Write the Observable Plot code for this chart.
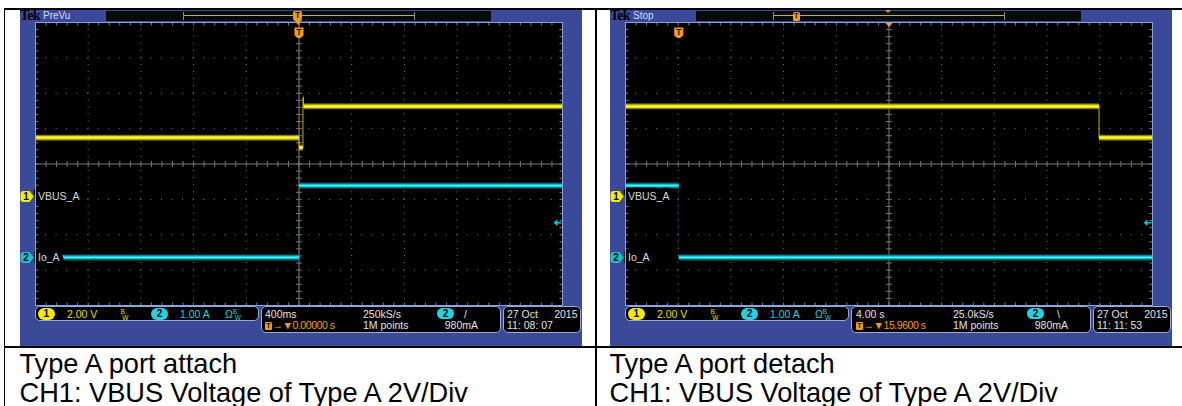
<!DOCTYPE html>
<html>
<head>
<meta charset="utf-8">
<script src="https://cdn.jsdelivr.net/npm/d3@7"></script>
<script src="https://cdn.jsdelivr.net/npm/@observablehq/plot@0.6"></script>
<style>
  html,body{margin:0;padding:0;background:#fff;}
  #page{position:relative;width:1182px;height:406px;overflow:hidden;background:#fff;}
  .rule{position:absolute;background:#000;}
  .panel{position:absolute;top:10px;width:562px;height:336px;background:#3b4999;}
  .panel svg{position:absolute;left:0;top:0;}
  .cap{position:absolute;white-space:nowrap;font-family:"Liberation Sans",Arial,sans-serif;font-size:27.2px;line-height:30px;color:#000;}
  .st{position:absolute;white-space:nowrap;font-family:"Liberation Sans",Arial,sans-serif;font-size:10.5px;line-height:12px;color:#e2e2e2;}
  .box{position:absolute;background:#000;border:1px solid #9ea9d2;border-radius:5px;box-sizing:border-box;}
  .pill{position:absolute;height:11.7px;width:17.3px;border-radius:6px;font:bold 10px/11.7px "Liberation Sans",Arial,sans-serif;text-align:center;color:#000;}
  .abs{position:absolute;}
  .bw{font-size:6.5px;display:inline-block;line-height:6px;vertical-align:middle;}
</style>
</head>
<body>
<div id="page"></div>
<script>
// ---------- data ----------
const captionTitles = ["Type A port attach", "Type A port detach"];
const captionDetail = ["CH1: VBUS Voltage of Type A 2V/Div", "CH1: VBUS Voltage of Type A 2V/Div"];
const scopeModes = ["PreVu", "Stop"];
const secPerDiv = [0.4, 4];            // s/div
const timeDelay = [0, 15.96];          // s (trigger -> screen centre)
const timebaseLabels = ["400ms", "4.00 s"];
const delayLabels = ["0.00000 s", "15.9600 s"];
const sampleRates = ["250kS/s", "25.0kS/s"];
const recordLengths = ["1M points", "1M points"];
const triggerSlopes = ["/", "\\"];
const triggerLevelA = 0.98;            // A
const triggerLevelLabel = "980mA";
const captureDates = ["27 Oct", "27 Oct"];
const captureYears = ["2015", "2015"];
const captureTimes = ["11: 08: 07", "11: 11: 53"];
const channelNames = ["VBUS_A", "Io_A"];
const channelScales = [2.00, 1.00];    // V/div, A/div
const channelScaleLabels = ["2.00 V", "1.00 A"];
const channelOffsets = [-0.92, -2.64]; // div from centre

// Type A port attach
const attachVbusT = [-2, 0, 0.030, 0.034, 2];
const attachVbusV = [3.33, 2.77, 5.55, 5.10, 5.10];
const attachIoT = [-2, 0, 2];
const attachIoA = [0, 2.03, 2.03];
// Type A port detach
const detachVbusT = [-4.04, 31.9, 35.96];
const detachVbusV = [5.10, 3.33, 3.33];
const detachIoT = [-4.04, 0, 35.96];
const detachIoA = [2.03, 0, 0];

const traces = [
  {vT: attachVbusT, vV: attachVbusV, iT: attachIoT, iA: attachIoA},
  {vT: detachVbusT, vV: detachVbusV, iT: detachIoT, iA: detachIoA}
];

// ---------- layout ----------
const W = 562, H = 336, ML = 15, MR = 20, MT = 12, MB = 41;
const divW = (W - ML - MR) / 10, divH = (H - MT - MB) / 8;
const FONT = "Liberation Sans, Arial, sans-serif";
const YEL = "#e6de00", CYA = "#00c4d0", ORA = "#f39b1c";

const page = document.getElementById("page");
function el(parent, cls, style, html) {
  const d = document.createElement("div");
  if (cls) d.className = cls;
  Object.assign(d.style, style);
  if (html != null) d.innerHTML = html;
  parent.appendChild(d);
  return d;
}

// table rules
el(page, "rule", {left: "4px", top: "8px", width: "1180px", height: "1.6px"});
el(page, "rule", {left: "4px", top: "8px", width: "1.4px", height: "400px"});
el(page, "rule", {left: "595px", top: "8px", width: "1.8px", height: "400px"});
el(page, "rule", {left: "4px", top: "346px", width: "1180px", height: "2px"});

function tag(w, h) {
  return {draw(ctx) {
    const x0 = -w / 2, x1 = w / 2, y0 = -h / 2, y1 = h / 2, r = 3, p = 4;
    ctx.moveTo(x0 + r, y0); ctx.lineTo(x1 - p, y0); ctx.lineTo(x1, 0); ctx.lineTo(x1 - p, y1);
    ctx.lineTo(x0 + r, y1); ctx.arcTo(x0, y1, x0, y1 - r, r); ctx.lineTo(x0, y0 + r);
    ctx.arcTo(x0, y0, x0 + r, y0, r); ctx.closePath();
  }};
}
const trigBox = {draw(ctx) {
  ctx.moveTo(-4.5, -5); ctx.lineTo(4.5, -5); ctx.lineTo(4.5, 3); ctx.lineTo(1.5, 5.5);
  ctx.lineTo(-1.5, 5.5); ctx.lineTo(-4.5, 3); ctx.closePath();
}};
const leftArrow = {draw(ctx) {
  ctx.moveTo(-4, 0); ctx.lineTo(0, -3.5); ctx.lineTo(0, -0.8); ctx.lineTo(3.5, -0.8);
  ctx.lineTo(3.5, 0.8); ctx.lineTo(0, 0.8); ctx.lineTo(0, 3.5); ctx.closePath();
}};
const downTri = {draw(ctx) { ctx.moveTo(-3.5, 0); ctx.lineTo(3.5, 0); ctx.lineTo(0, 4); ctx.closePath(); }};

function steps(ts, vs) { return ts.slice(0, -1).map((t, i) => ({t0: t, t1: ts[i + 1], v: vs[i]})); }
function pts(ts, vs) { return ts.map((t, i) => ({t, v: vs[i]})); }

function scopePlot(k) {
  const tr = traces[k];
  const xd = t => 5 + (t - timeDelay[k]) / secPerDiv[k];
  const yv = v => channelOffsets[0] + v / channelScales[0];
  const ya = a => channelOffsets[1] + a / channelScales[1];
  const majorX = [1, 2, 3, 4, 6, 7, 8, 9];
  const majorY = [-3, -2, -1, 1, 2, 3];
  const minorX = d3.range(0, 51).map(i => i / 5);
  const minorY = d3.range(0, 41).map(i => -4 + i / 5);
  const tx = 3 / divW, ty = 3 / divH;
  const band = (data, f, colors) => [
    Plot.link(data, {x1: d => xd(d.t0), x2: d => xd(d.t1), y1: d => f(d.v), y2: d => f(d.v), stroke: colors[0], strokeWidth: 6, strokeOpacity: 0.75}),
    Plot.link(data, {x1: d => xd(d.t0), x2: d => xd(d.t1), y1: d => f(d.v), y2: d => f(d.v), stroke: colors[1], strokeWidth: 3.6}),
    Plot.link(data, {x1: d => xd(d.t0), x2: d => xd(d.t1), y1: d => f(d.v), y2: d => f(d.v), stroke: colors[2], strokeWidth: 1.2, strokeOpacity: 0.8})
  ];
  const vSteps = steps(tr.vT, tr.vV), iSteps = steps(tr.iT, tr.iA);
  const markers = [
    {y: channelOffsets[0], n: "1", c: "#f2ee00"},
    {y: channelOffsets[1], n: "2", c: "#12c2cc"}
  ];
  const labels = [
    {y: channelOffsets[0], t: channelNames[0]},
    {y: channelOffsets[1], t: channelNames[1]}
  ];
  const grid = "#7e7e7e";
  const marks = [
    Plot.frame({fill: "#000", stroke: null}),
    Plot.ruleX(majorX, {stroke: grid, strokeDasharray: `1 ${divH / 5 - 1}`, strokeDashoffset: 0.5}),
    Plot.ruleY(majorY, {stroke: grid, strokeDasharray: `1 ${divW / 5 - 1}`, strokeDashoffset: 0.5}),
    Plot.ruleX([5], {stroke: k === 1 ? "#8a7c55" : "#8c887c"}),
    Plot.ruleY([0], {stroke: "#767676"}),
    Plot.link(minorX, {x1: d => d, x2: d => d, y1: -ty, y2: ty, stroke: "#767676"}),
    Plot.link(minorX, {x1: d => d, x2: d => d, y1: 4, y2: 4 - ty, stroke: grid}),
    Plot.link(minorX, {x1: d => d, x2: d => d, y1: -4, y2: -4 + ty, stroke: grid}),
    Plot.link(minorY, {y1: d => d, y2: d => d, x1: 5 - tx, x2: 5 + tx, stroke: "#767676"}),
    Plot.link(minorY, {y1: d => d, y2: d => d, x1: 0, x2: tx, stroke: grid}),
    Plot.link(minorY, {y1: d => d, y2: d => d, x1: 10, x2: 10 - tx, stroke: grid}),
    // traces
    Plot.line(pts(tr.iT, tr.iA), {x: d => xd(d.t), y: d => ya(d.v), curve: "step-after", stroke: "#0a8a94", strokeWidth: 1, strokeOpacity: 0.22}),
    ...band(iSteps, ya, ["#006f78", CYA, "#7ef0f6"]),
    Plot.line(pts(tr.vT, tr.vV), {x: d => xd(d.t), y: d => yv(d.v), curve: "step-after", stroke: "#d8d000", strokeWidth: 1, strokeOpacity: 0.85}),
    ...band(vSteps, yv, ["#8a8200", YEL, "#fffa80"]),
    // channel labels
    Plot.text(labels, {x: 0, y: "y", text: "t", dx: 2.5, textAnchor: "start", fill: "#dadada", fontSize: 10.5, fontFamily: FONT, stroke: "#000", strokeWidth: 9}),
    Plot.frame({stroke: "#86a0e6", strokeWidth: 1}),
    // ground markers
    Plot.dot(markers, {x: 0, y: "y", dx: -8.5, symbol: tag(13, 11), fill: "c", stroke: null}),
    Plot.text(markers, {x: 0, y: "y", dx: -9.5, text: "n", fill: "#000", fontWeight: "bold", fontSize: 10, fontFamily: FONT}),
    // trigger level arrow
    Plot.dot([triggerLevelA], {x: 10, y: d => ya(d), dx: -5, symbol: leftArrow, fill: CYA, stroke: null}),
    // trigger position marker
    Plot.dot([0], {x: d => xd(d), y: 4, dy: 10, symbol: trigBox, fill: ORA, stroke: null}),
    Plot.text([0], {x: d => xd(d), y: 4, dy: 9.5, text: () => "T", fill: "#2a1600", fontWeight: "bold", fontSize: 9, fontFamily: FONT})
  ];
  if (timeDelay[k] !== 0) marks.push(Plot.dot([timeDelay[k]], {x: d => xd(d), y: 4, dy: 0.5, symbol: downTri, fill: ORA, stroke: null}));
  return Plot.plot({
    width: W, height: H, marginLeft: ML, marginRight: MR, marginTop: MT, marginBottom: MB,
    x: {domain: [0, 10], axis: null},
    y: {domain: [-4, 4], axis: null},
    style: {background: "none", fontFamily: FONT, overflow: "visible"},
    marks
  });
}

function st(p, left, top, text, color, extra) {
  return el(p, "st", Object.assign({left: left + "px", top: top + "px", color: color || "#e2e2e2"}, extra || {}), text);
}
function pill(p, left, top, color, n) { el(p, "pill", {left: left + "px", top: top + "px", background: color}, n); }

const R1 = 297.7, R2 = 309.4;
const bw = '<span class="bw">B<br>&nbsp;W</span>';

[20, 610].forEach((px, k) => {
  const p = el(page, "panel", {left: px + "px"});
  p.appendChild(scopePlot(k));
  // header
  el(p, "abs", {left: "0px", top: "-2px", font: "bold 14px/16px 'Liberation Serif', 'DejaVu Serif', serif", color: "#000", letterSpacing: "-0.8px"}, "Tek");
  el(p, "abs", {left: "23px", top: "-0.5px", font: "10px/12px " + FONT, color: "#d2d8f2"}, scopeModes[k]);
  el(p, "abs", {left: (85.5 + k * 0.5) + "px", top: "0.5px", width: "385px", height: "10px", background: "#040b07"});
  el(p, "abs", {left: "163px", top: "4.5px", width: "231px", height: "1.4px", background: "#c2ba12"});
  el(p, "abs", {left: "163px", top: "1.5px", width: "1px", height: "8px", background: "#8a8a8a"});
  el(p, "abs", {left: "394px", top: "1.5px", width: "1px", height: "8px", background: "#8a8a8a"});
  if (k === 0) {
    el(p, "abs", {left: "273px", top: "0.5px", width: "9px", height: "9px", background: ORA, borderRadius: "1.5px", font: "bold 8.5px/9px " + FONT, color: "#2a1600", textAlign: "center"}, "T");
    el(p, "abs", {left: "273.5px", top: "9.5px", width: "0", height: "0", borderLeft: "4px solid transparent", borderRight: "4px solid transparent", borderTop: "5px solid " + ORA});
  } else {
    el(p, "abs", {left: "182.5px", top: "2px", width: "7.5px", height: "8.5px", background: ORA, borderRadius: "1.5px", font: "bold 8px/8.5px " + FONT, color: "#2a1600", textAlign: "center"}, "T");
    el(p, "abs", {left: "274.5px", top: "0px", width: "0", height: "0", borderLeft: "3.5px solid transparent", borderRight: "3.5px solid transparent", borderTop: "3.5px solid " + ORA});
  }
  // status bar
  el(p, "box", {left: "15px", top: "295.7px", width: "223.5px", height: "15.5px"});
  el(p, "box", {left: "241px", top: "295.7px", width: "239.5px", height: "27.2px"});
  el(p, "box", {left: "482.5px", top: "295.7px", width: "78px", height: "27.2px"});
  pill(p, 17.7, 298.3, "#f2ea00", "1");
  st(p, 47, R1, channelScaleLabels[0], "#e6de00");
  st(p, 100.5, R1, bw, "#e6de00");
  pill(p, 131, 298.3, "#22d2e2", "2");
  st(p, 160, R1, channelScaleLabels[1], "#22cedc");
  st(p, 205, R1, "Ω" + bw, "#22cedc");
  st(p, 245 + k, R1, timebaseLabels[k]);
  el(p, "abs", {left: (245 + k) + "px", top: "311.5px", width: "7px", height: "8.5px", background: ORA, borderRadius: "1px", font: "bold 8px/8.5px " + FONT, color: "#2a1600", textAlign: "center"}, "T");
  st(p, 252.5 + k, R2, "→▼" + delayLabels[k], ORA, {letterSpacing: "-0.45px"});
  st(p, 343, R1, sampleRates[k]);
  st(p, 343, R2, recordLengths[k]);
  pill(p, 417, 297.8, "#22d2e2", "2");
  st(p, 444 + k * 3, R1, triggerSlopes[k]);
  st(p, 380, R2, triggerLevelLabel, null, {width: "78px", textAlign: "right"});
  st(p, 487, R1, captureDates[k]);
  st(p, 520, R1, captureYears[k], null, {width: "37.5px", textAlign: "right"});
  st(p, 487, R2, captureTimes[k]);
  // captions
  el(page, "cap", {left: (px - 0.5) + "px", top: "348.5px"}, captionTitles[k]);
  el(page, "cap", {left: (px - 0.5) + "px", top: "377.5px"}, captionDetail[k]);
});
</script>
</body>
</html>
